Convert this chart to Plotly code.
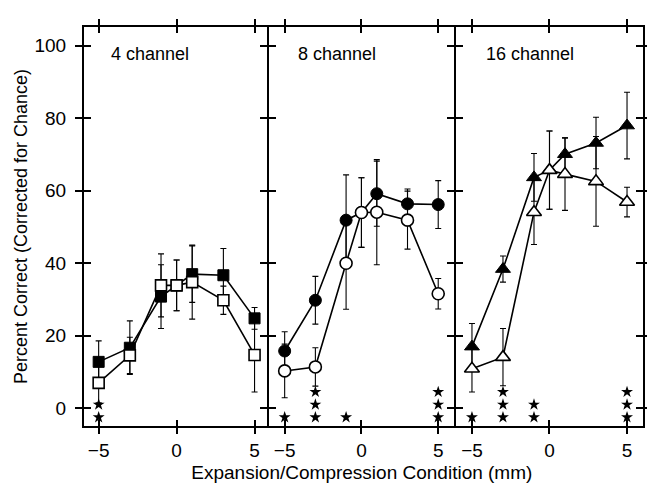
import plotly.graph_objects as go

# ---------------- data ----------------
x_mm = [-5, -3, -1, 0, 1, 3, 5]
x_ticks = [-5, 0, 5]
y_ticks = [0, 20, 40, 60, 80, 100]

ch4_filled = [12.8, 16.7, 30.8, 33.9, 37.0, 36.7, 24.8]
ch4_filled_err = [5.8, 7.4, 8.8, 7.0, 7.8, 7.4, 3.0]
ch4_open = [7.0, 14.6, 33.9, 33.9, 34.8, 29.8, 14.7]
ch4_open_err = [5.5, 5.0, 8.7, 7.0, 10.2, 3.9, 10.2]

ch8_filled = [15.8, 29.8, 51.9, 54.0, 59.2, 56.4, 56.2]
ch8_filled_err = [5.3, 6.6, 12.5, 9.6, 9.0, 4.1, 6.6]
ch8_open = [10.3, 11.4, 40.0, 54.0, 54.1, 51.9, 31.6]
ch8_open_err = [7.4, 5.3, 12.7, 9.6, 14.5, 8.0, 4.2]

ch16_filled = [17.0, 38.4, 63.7, 65.7, 70.1, 73.2, 78.0]
ch16_filled_err = [6.4, 3.6, 6.6, 10.8, 4.5, 7.1, 9.2]
ch16_open = [10.9, 14.1, 54.1, 65.7, 64.6, 62.6, 56.9]
ch16_open_err = [6.4, 7.9, 8.9, 10.8, 10.0, 12.4, 4.1]

# number of significance stars per condition
stars4 = [2, 0, 0, 0, 0, 0, 0]
stars8 = [1, 3, 1, 0, 0, 0, 3]
stars16 = [1, 3, 2, 0, 0, 0, 3]

panel_labels = ["4 channel", "8 channel", "16 channel"]
x_title = "Expansion/Compression Condition (mm)"
y_title = "Percent Correct (Corrected for Chance)"

# ---------------- style ----------------
FONT = "Liberation Sans, Arial, Helvetica, sans-serif"
BLACK = "black"
STAR_BASE = -2.5
STAR_STEP = 3.5

panels = [
    ("x", "y", "square", ch4_filled, ch4_filled_err, ch4_open, ch4_open_err, stars4, 11),
    ("x2", "y2", "circle", ch8_filled, ch8_filled_err, ch8_open, ch8_open_err, stars8, 12),
    ("x3", "y3", "triangle-up", ch16_filled, ch16_filled_err, ch16_open, ch16_open_err, stars16, 13),
]

fig = go.Figure()

for xa, ya, sym, f_vals, f_err, o_vals, o_err, stars, msize in panels:
    fig.add_trace(go.Scatter(
        x=x_mm, y=f_vals, xaxis=xa, yaxis=ya, mode="lines+markers",
        line=dict(color=BLACK, width=1.6),
        marker=dict(symbol=sym, size=msize, color=BLACK, line=dict(color=BLACK, width=1)),
        error_y=dict(type="data", array=f_err, visible=True, color=BLACK, thickness=1.1, width=3),
        showlegend=False, hoverinfo="skip"))
    fig.add_trace(go.Scatter(
        x=x_mm, y=o_vals, xaxis=xa, yaxis=ya, mode="lines+markers",
        line=dict(color=BLACK, width=1.6),
        marker=dict(symbol=sym, size=msize, color="white", line=dict(color=BLACK, width=1.6)),
        error_y=dict(type="data", array=o_err, visible=True, color=BLACK, thickness=1.1, width=3),
        showlegend=False, hoverinfo="skip"))
    sx, sy = [], []
    for xv, n in zip(x_mm, stars):
        for k in range(n):
            sx.append(xv)
            sy.append(STAR_BASE + STAR_STEP * k)
    fig.add_trace(go.Scatter(
        x=sx, y=sy, xaxis=xa, yaxis=ya, mode="markers",
        marker=dict(symbol="star", size=9, color=BLACK, line=dict(width=0)),
        showlegend=False, hoverinfo="skip"))

tickfont = dict(family=FONT, size=19, color=BLACK)

PLOT_W = 655 - 76 - 11
LW = 2
gap = LW / PLOT_W
b1 = 187.3 / PLOT_W
b2 = 377.3 / PLOT_W
x_domains = [[0.0, b1 - gap / 2], [b1 + gap / 2, b2 - gap / 2], [b2 + gap / 2, 1.0]]
x_ranges = [[-5.94, 5.82], [-6.0, 6.05], [-6.01, 6.03]]
y_range = [-4.9, 105.2]

layout = dict(
    width=655, height=490,
    margin=dict(l=76, r=11, t=15, b=72),
    paper_bgcolor="white", plot_bgcolor="white",
    font=dict(family=FONT, size=18, color=BLACK),
    showlegend=False,
)

for i in range(3):
    n = "" if i == 0 else str(i + 1)
    yname = "y" + n
    layout["xaxis" + n] = dict(
        domain=x_domains[i], range=x_ranges[i], anchor=yname,
        tickmode="array", tickvals=x_ticks, ticks="outside", ticklen=6, tickwidth=1.5,
        tickcolor=BLACK, showline=True, linecolor=BLACK, linewidth=LW, mirror="ticks",
        showgrid=False, zeroline=False, tickfont=tickfont,
        title=dict(text=x_title if i == 1 else "", font=dict(family=FONT, size=19), standoff=6),
    )
    layout["yaxis" + n] = dict(
        domain=[0, 1], range=y_range, anchor="x" + n,
        tickmode="array", tickvals=y_ticks, ticks="outside", ticklen=7, tickwidth=1.5,
        tickcolor=BLACK, showline=True, linecolor=BLACK, linewidth=LW, mirror="ticks",
        showgrid=False, zeroline=False, tickfont=tickfont, showticklabels=(i == 0),
        ticklabelstandoff=5,
        title=dict(text=y_title if i == 0 else "", font=dict(family=FONT, size=18), standoff=2),
    )
    layout["xaxis" + str(i + 4)] = dict(
        overlaying="x" + n, anchor=yname, range=x_ranges[i],
        tickmode="array", tickvals=x_ticks, ticks="inside", ticklen=6, tickwidth=1.5,
        tickcolor=BLACK, showline=False, mirror="ticks", showticklabels=False,
        showgrid=False, zeroline=False,
    )
    layout["yaxis" + str(i + 4)] = dict(
        overlaying=yname, anchor="x" + n, range=y_range,
        tickmode="array", tickvals=y_ticks, ticks="inside", ticklen=7, tickwidth=1.5,
        tickcolor=BLACK, showline=False, mirror="ticks", showticklabels=False,
        showgrid=False, zeroline=False,
    )
    fig.add_trace(go.Scatter(x=[None], y=[None], xaxis="x" + str(i + 4), yaxis="y" + str(i + 4),
                             mode="markers", showlegend=False, hoverinfo="skip"))

annotations = []
label_x = [-4.31, -4.24, -4.22]
for i, txt in enumerate(panel_labels):
    n = "" if i == 0 else str(i + 1)
    annotations.append(dict(
        text=txt, xref="x" + n, yref="y" + n, x=label_x[i], y=97.8,
        xanchor="left", yanchor="middle", showarrow=False,
        font=dict(family=FONT, size=18, color=BLACK)))
layout["annotations"] = annotations

fig.update_layout(**layout)
fig.write_html("out.html")
